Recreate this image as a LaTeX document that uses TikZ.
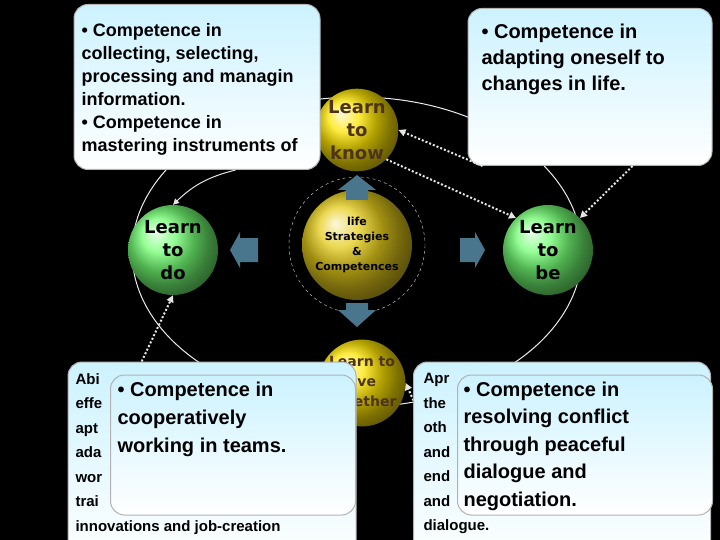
\documentclass[tikz,border=0pt]{standalone}
\usepackage{fontspec}
\setmainfont{Liberation Sans}
\newfontfamily\dv{DejaVu Sans}
\usetikzlibrary{arrows.meta,shapes.arrows}
\begin{document}
\begin{tikzpicture}[x=1pt,y=-1pt,
  box/.style={draw=gray!60,line width=1pt,rounded corners=14pt,top color=blue!25!cyan!20!white,bottom color=white},
  ball/.style={circle,minimum size=#1,inner sep=0pt,align=center,font=\dv\bfseries},
  btxt/.style={font=\bfseries\fontsize{16}{19}\selectfont,align=left,anchor=north west},
  dots/.style={white!80!gray,line width=2pt,dash pattern=on 2pt off 2pt,-{Triangle[length=7pt,width=7pt]}},
  barrow/.style={fill=cyan!50!black,draw=none}]
\useasboundingbox (0,0) rectangle (720,540);
\clip (0,0) rectangle (720,540);
\fill[black] (0,0) rectangle (720,540);
% big ellipse
\draw[white!85!gray,line width=1pt] (357,252) ellipse (225 and 155);
\draw[white!70!gray,dashed] (357,245) ellipse (68 and 68);
% balls
\node[ball=110pt,shade,ball color=yellow!60!brown,text=black,font=\dv\bfseries\fontsize{11}{15}\selectfont] (c) at (357,245) {life\\Strategies\\\&\\Competences};
\node[ball=82pt,shade,ball color=yellow!80!orange,text=brown!40!black,font=\dv\bfseries\fontsize{18}{23}\selectfont] (k) at (357,130) {Learn\\to\\know};
\node[ball=90pt,shade,ball color=green!55!white,text=black,font=\dv\bfseries\fontsize{18}{23}\selectfont] (d) at (173,250) {Learn\\to\\do};
\node[ball=90pt,shade,ball color=green!55!white,text=black,font=\dv\bfseries\fontsize{18}{23}\selectfont] (b) at (548,250) {Learn\\to\\be};
\node[ball=86pt,shade,ball color=yellow!80!orange,text=brown!40!black,font=\dv\bfseries\fontsize{14}{20}\selectfont] (l) at (362,383) {Learn to\\live\\together};
% blue arrows
\fill[barrow] (346,200)--(346,190)--(338,190)--(357,175)--(376,190)--(368,190)--(368,200)--cycle;
\fill[barrow] (258,238)--(240,238)--(240,232)--(230,250)--(240,268)--(240,262)--(258,262)--cycle;
\fill[barrow] (460,238)--(475,238)--(475,232)--(485,250)--(475,268)--(475,262)--(460,262)--cycle;
\fill[barrow] (346,303)--(368,303)--(368,310)--(376,310)--(357,327)--(338,310)--(346,310)--cycle;
% top-left box
\node[box,minimum width=246pt,minimum height=165pt] (tl) at (197,87) {};
\node[btxt,font=\bfseries\fontsize{18}{23}\selectfont] (tlt) at (78,20) {• Competence in\\collecting, selecting,\\processing and managin\\information.\\• Competence in\\mastering instruments of};
% top-right box
\node[box,minimum width=244pt,minimum height=157pt] (tr) at (590,87) {};
\node[btxt,font=\bfseries\fontsize{20}{26}\selectfont] (trt) at (478,20) {• Competence in\\adapting oneself to\\changes in life.};
% connectors
\draw[white!80!gray,line width=1pt,-{Triangle[length=6pt,width=6pt]}] (tl.south east) ++(-85,0) to[bend right=15] (d.north);
\draw[dots] (tr.south west) ++(15,0) -- (k.east);
\draw[dots] (tr.south east) ++(-80,0) -- (b.north east);
\draw[dots] (k.south east) -- (b.north west);
\draw[dots] (140,365) -- (d.south);
\draw[dots] (420,415) -- (l.east);
% bottom-left back box
\node[box,minimum width=288pt,minimum height=200pt] (bl) at (212,462) {};
\node[btxt,font=\bfseries\fontsize{15}{24.5}\selectfont] (blt) at (72,370) {Abi\\effe\\apt\\ada\\wor\\trai\\innovations and job-creation};
\node[box,minimum width=245pt,minimum height=140pt] (blf) at (233,445) {};
\node[btxt,font=\bfseries\fontsize{20}{28}\selectfont] (blft) at (114,378) {• Competence in\\cooperatively\\working in teams.};
% bottom-right back box
\node[box,minimum width=297pt,minimum height=200pt] (br) at (562,462) {};
\node[btxt,font=\bfseries\fontsize{15}{24.5}\selectfont] (brt) at (420,370) {Apr\\the\\oth\\and\\end\\and\\dialogue.};
\node[box,minimum width=255pt,minimum height=140pt] (brf) at (585,445) {};
\node[btxt,font=\bfseries\fontsize{20}{27.5}\selectfont] (brft) at (460,378) {• Competence in\\resolving conflict\\through peaceful\\dialogue and\\negotiation.};
\end{tikzpicture}
\end{document}
